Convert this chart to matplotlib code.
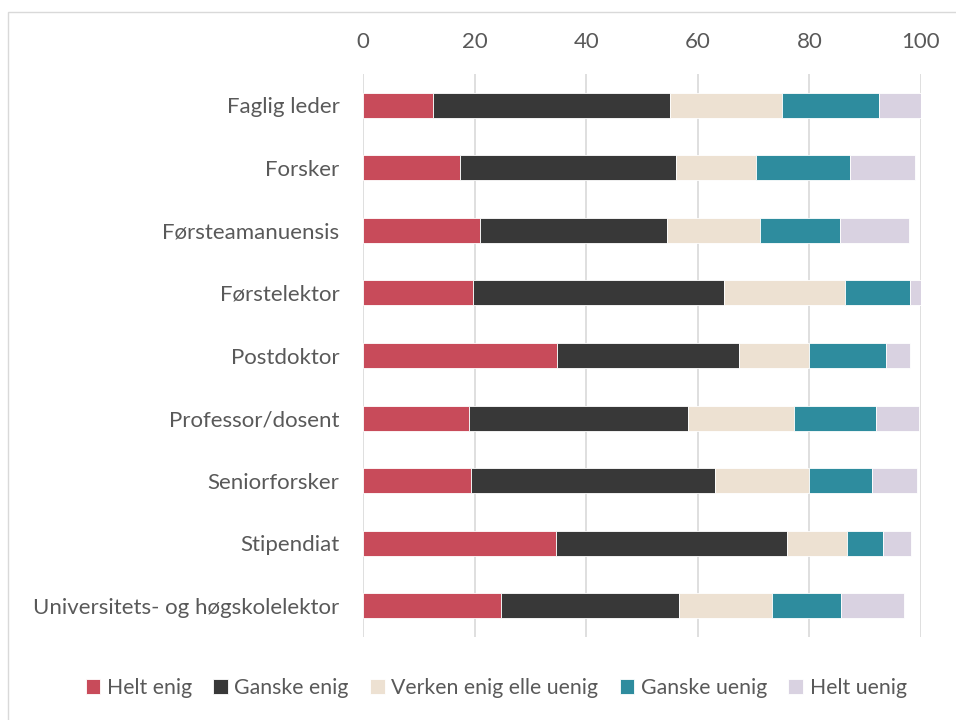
import matplotlib
matplotlib.use("Agg")
import matplotlib.pyplot as plt
from matplotlib.patches import Rectangle
import numpy as np

categories = ["Faglig leder", "Forsker", "Førsteamanuensis", "Førstelektor", "Postdoktor",
              "Professor/dosent", "Seniorforsker", "Stipendiat", "Universitets- og høgskolelektor"]
series_names = ["Helt enig", "Ganske enig", "Verken enig elle uenig", "Ganske uenig", "Helt uenig"]
helt_enig    = [12.6, 17.4, 21.0, 19.7, 34.8, 19.0, 19.4, 34.6, 24.8]
ganske_enig  = [42.4, 38.7, 33.4, 45.0, 32.6, 39.3, 43.7, 41.3, 31.9]
verken       = [20.1, 14.4, 16.8, 21.6, 12.6, 19.0, 16.9, 10.8, 16.6]
ganske_uenig = [17.4, 16.7, 14.2, 11.8, 13.7, 14.7, 11.2,  6.5, 12.3]
helt_uenig   = [ 7.5, 11.7, 12.4,  1.9,  4.3,  7.6,  8.0,  5.0, 11.4]
xticks = [0, 20, 40, 60, 80, 100]

colors = ["#C84B5A", "#383838", "#EDE1D2", "#2E8C9E", "#D9D2E1"]

plt.rcParams['font.family'] = ['Lato', 'DejaVu Sans']

fig = plt.figure(figsize=(9.56, 7.2), dpi=100)
fig.patches.append(Rectangle((8/956, -0.05), 1.0, 1 - 12/720 + 0.05, transform=fig.transFigure,
                             fill=False, edgecolor="#D9D9D9", linewidth=1.0))
ax = fig.add_axes([363/956, 1 - 637/720, 558/956, 563/720])

y = np.arange(len(categories))
left = np.zeros(len(categories))
data = [helt_enig, ganske_enig, verken, ganske_uenig, helt_uenig]
for name, vals, c in zip(series_names, data, colors):
    vals = np.array(vals)
    ax.barh(y, vals, left=left, height=0.40, color=c, edgecolor="white", linewidth=0.6,
            label=name, zorder=3)
    left += vals

ax.set_xlim(0, 100)
ax.set_ylim(len(categories) - 0.5, -0.5)
ax.set_xticks(xticks)
ax.set_yticks(y)
ax.set_yticklabels(categories)
ax.xaxis.tick_top()
ax.tick_params(axis='x', length=0, pad=16, labelsize=16, colors="#595959")
ax.tick_params(axis='y', length=0, pad=17, labelsize=16, colors="#595959")
ax.grid(axis='x', color="#D9D9D9", linewidth=1.2, zorder=0)
for s in ax.spines.values():
    s.set_visible(False)

leg = fig.legend(loc="center", bbox_to_anchor=(496/956, 1 - 688/720), ncol=5, frameon=False,
                 fontsize=15.3, handlelength=0.7, handleheight=0.7, handletextpad=0.3,
                 columnspacing=1.0)
for t in leg.get_texts():
    t.set_color("#595959")

fig.savefig("out.png", dpi=100)
